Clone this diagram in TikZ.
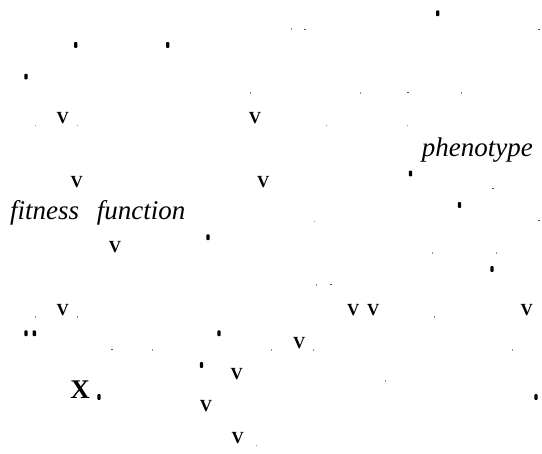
\documentclass[tikz,border=0pt]{standalone}
\usepackage{fontspec}
\setmainfont{Liberation Serif}
\usetikzlibrary{positioning}

\begin{document}
\begin{tikzpicture}[x=1pt, y=-1pt,
  vglyph/.style={font=\fontsize{17}{17}\selectfont\bfseries, inner sep=0pt, anchor=center},
  xglyph/.style={font=\fontsize{27}{27}\selectfont\bfseries, inner sep=0pt, anchor=center},
  term/.style={font=\fontsize{27}{27}\selectfont\itshape, inner sep=0pt},
  blob/.style={fill=black, rounded corners=0.8pt},
  speck/.style={fill=black!45},
  dashmark/.style={fill=black!70},
]

\useasboundingbox (0,0) rectangle (542,454);

% --- Labels ---
\node[term, anchor=base east] (phenotype) at (533,157) {phenotype};
\node[term, anchor=base west] (fitness) at (10,219.5) {fitness};
\node[term, anchor=base west] (function) at (96.7,219.5) {function};

% --- Glyphs ---
\foreach \px/\py [count=\i] in {62.7/118.3, 255/118.3, 76.7/181.7, 263.3/181.7,
    115/246.7, 62.7/310, 353.3/310, 373.3/310, 526.7/310, 299.3/342.7,
    236.7/374, 206/406, 237.7/437.7}
  \node[vglyph] (v\i) at (\px,\py) {V};
\node[xglyph] (x1) at (80,389.3) {X};

% --- Blobs ---
\foreach \px/\py in {75.7/45, 167.7/45, 437.7/13.3, 26/76.7, 410.5/173.5,
    459.5/205, 208/237.3, 492/269, 26/333.3, 34.3/333.3, 219/333.3,
    201.5/365, 99/397, 536/397}
  \fill[blob] (\px-1.7,\py-2.8) rectangle (\px+1.7,\py+2.8);

% --- Specks ---
\foreach \px/\py in {35.7/125.7, 77.3/125.7, 250.7/93.3, 291.7/29.3,
    360.7/93.3, 461.7/93.3, 326/125.7, 407.7/125.7, 314/221.7,
    432.7/253.3, 496.7/253.3, 316/285, 35.7/317.3, 77.3/317.3,
    152.3/350, 256.7/445.7, 434/317.3, 271.7/350, 313.3/350,
    512.7/350, 385.7/381}
  \fill[speck] (\px-0.5,\py-0.8) rectangle (\px+0.5,\py+0.8);

% --- Dashes ---
\foreach \px/\py in {305/29.3, 539.3/29.3, 408.3/92.7, 493.3/188.3,
    539.3/220.7, 330.7/284.3, 111.7/349}
  \fill[dashmark] (\px-1,\py-0.4) rectangle (\px+1,\py+0.4);

\end{tikzpicture}
\end{document}
